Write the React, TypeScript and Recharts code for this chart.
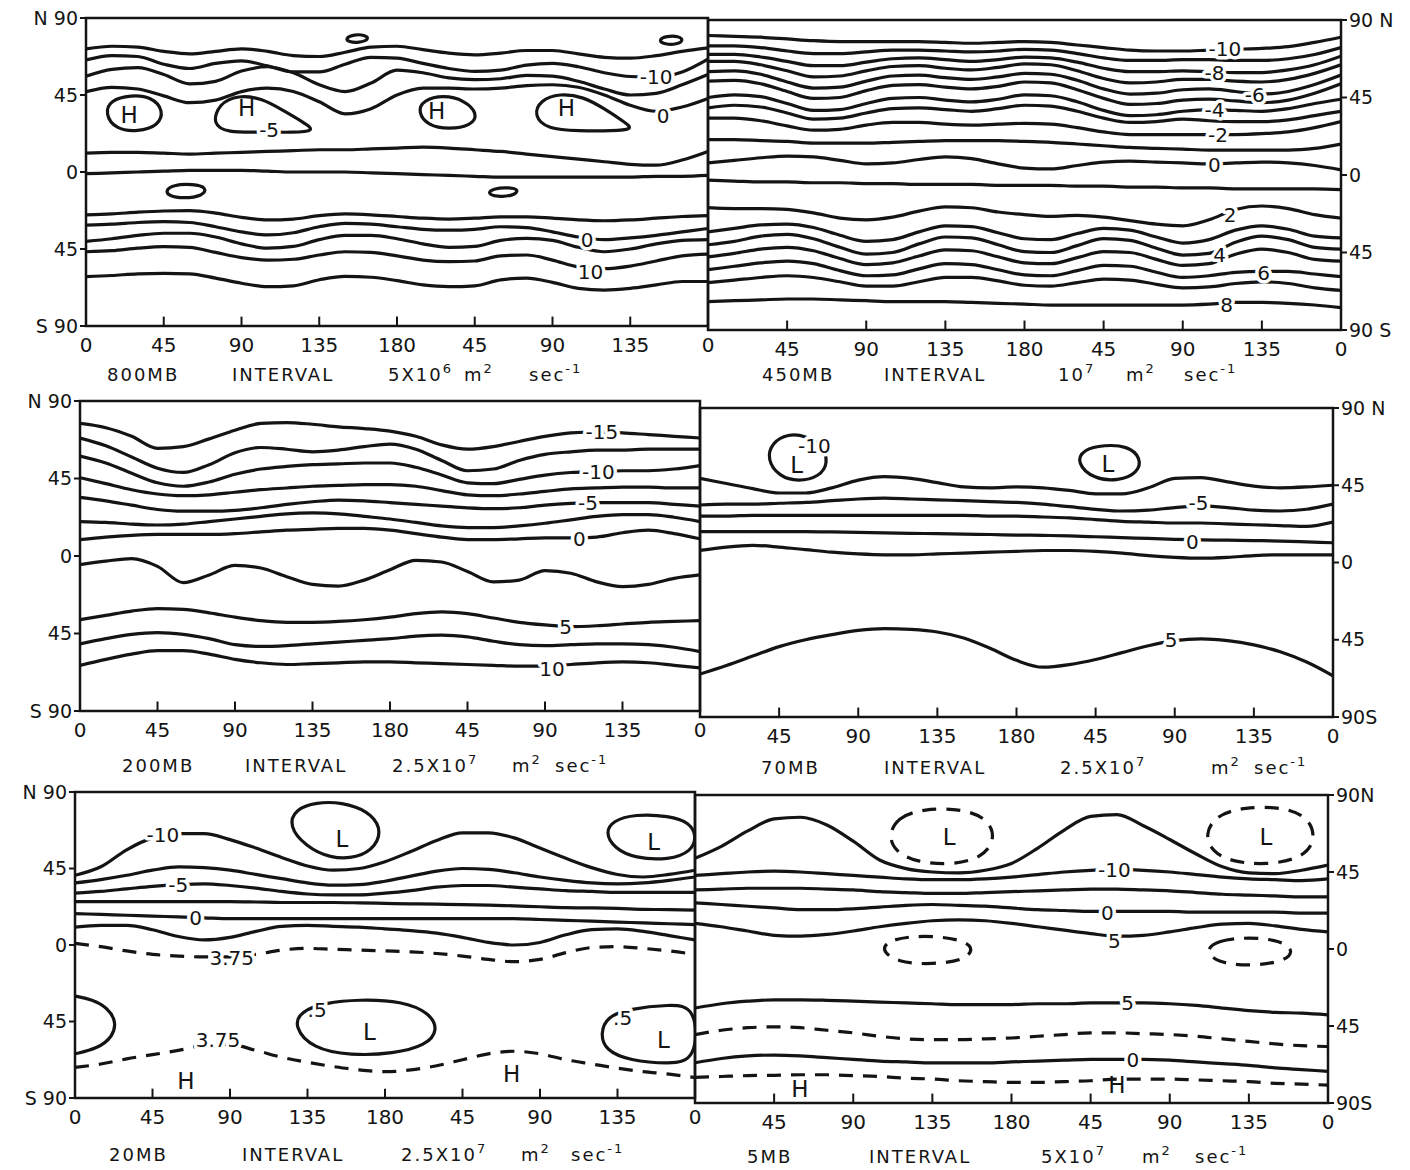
import React from "react";
import {
  ComposedChart,
  Line,
  Scatter,
  XAxis,
  YAxis,
  ReferenceArea,
  ReferenceLine,
} from "recharts";

const FONT = '"DejaVu Sans", "Liberation Sans", sans-serif';
const INK = "#141414";

// longitude grid used by every open contour (0..360 every 15 degrees)
const lon = [0, 15, 30, 45, 60, 75, 90, 105, 120, 135, 150, 165, 180, 195, 210, 225, 240, 255, 270, 285, 300, 315, 330, 345, 360];

const xTicks = [0, 45, 90, 135, 180, 225, 270, 315, 360];
const xLabels = ["0", "45", "90", "135", "180", "45", "90", "135", "0"];
const yTicks = [90, 45, 0, -45, -90];
const yLabelsLeft = ["N 90", "45", "0", "45", "S 90"];
const yLabelsRight = ["90 N", "45", "0", "45", "90 S"];
const yLabelsRight70 = ["90 N", "45", "0", "45", "90S"];
const yLabelsRight5 = ["90N", "45", "0", "45", "90S"];

type Pt = [number, number];
type Lab = [number, number, string];

// ---- 800 MB ----
const mb800n1 = [72, 73.5, 73, 70.5, 69, 70.5, 72, 70.5, 68, 67.5, 70, 73, 73.5, 71.5, 69.5, 68.5, 69.5, 71, 71, 69, 67, 66.5, 68, 70.5, 72.5];
const mb800n2 = [65.5, 68, 67.5, 63, 60.5, 63.5, 65, 62, 58.5, 58.5, 63, 67, 66.5, 63.5, 60.5, 58.8, 59.5, 62.5, 63.5, 61.5, 58, 55.8, 55.5, 58.5, 66];
const mb800n3 = [56, 60, 61, 57, 51.5, 53, 59, 61.5, 58, 51, 47, 52, 59.5, 58, 55, 54, 54.5, 56.5, 56, 53, 48.5, 45, 46, 51, 57];
const mb800n4 = [47, 49.5, 48.5, 44.5, 40.5, 42, 47, 49, 47, 41, 34, 37, 45, 49, 49, 48.5, 49, 50.5, 51, 49.5, 45, 39, 35.5, 38, 43];
const mb800e1 = [11, 11.5, 11.5, 11, 10.5, 11, 11.5, 12, 12.5, 13, 13, 13.5, 14, 14.5, 14, 13, 12, 10.5, 9, 7.5, 6, 4.5, 4, 7, 12];
const mb800e2 = [-1, -0.5, 0, 0.5, 1, 1, 1, 0.5, 0, 0, 0, -0.5, -1, -1.5, -2, -2.5, -3, -3, -3, -3, -3, -3, -2.5, -2.5, -2];
const mb800s1 = [-25, -24.5, -23.5, -22.8, -22.6, -24, -26.5, -28, -27.5, -25.5, -24.5, -25, -26, -27, -27.5, -27, -26.2, -26.2, -27, -28, -28.5, -28, -27, -26, -25.5];
const mb800s2 = [-31, -30.5, -29.5, -29, -29.5, -32, -35, -36.8, -35.5, -32, -30, -30.5, -32, -33.5, -34, -33.5, -32, -32.5, -35, -38, -39.5, -38.5, -37, -35, -33];
const mb800s3 = [-40.5, -39, -37, -35.8, -35.8, -38, -42, -44.5, -43.5, -39.5, -37, -37, -39, -42, -44, -43.5, -40, -38.8, -40, -44, -46.6, -45, -42, -40, -39.5];
const mb800s4 = [-46.6, -46, -44.5, -43.6, -44, -47, -50, -51.5, -51, -48.5, -46.6, -47, -49, -51.5, -52.4, -52, -49, -48.5, -51.5, -55.5, -56.5, -55, -52, -49, -48];
const mb800s5 = [-61.2, -60.5, -59.5, -59.2, -59.5, -62, -65, -67, -66.5, -63, -61, -61.5, -63.5, -66, -67, -66.5, -63, -62, -64.5, -68, -69, -68, -66, -64, -64];
const mb800h1: Pt[] = [[11, 34], [14, 42], [26, 45], [38, 44], [45, 36], [42, 27], [30, 23.5], [17, 25]];
const mb800h2: Pt[] = [[73, 28], [77, 40], [88, 45], [102, 43], [114, 36], [126, 29], [133, 24], [120, 23], [100, 23.5], [82, 23]];
const mb800h3: Pt[] = [[192, 35], [195, 42], [207, 45], [219, 42], [227, 34], [223, 27], [210, 25], [198, 27]];
const mb800h4: Pt[] = [[259, 33], [263, 42], [274, 46], [288, 44], [300, 37], [312, 29], [317, 25], [305, 24], [285, 24], [267, 25]];
const mb800c1: Pt[] = [[150, 78], [155, 80.5], [162, 80], [164, 77.5], [158, 75.5], [152, 76]];
const mb800c2: Pt[] = [[331, 77], [336, 79.5], [343, 79.5], [346, 77], [342, 74.5], [335, 74.5]];
const mb800c3: Pt[] = [[46, -11], [50, -7.5], [62, -7], [70, -9], [68, -14], [56, -15.5], [48, -14]];
const mb800c4: Pt[] = [[232, -12.5], [236, -9.5], [245, -9], [251, -10.5], [247, -14], [238, -14.5]];
const mb800labels: Lab[] = [
  [25, 33.5, "H"], [93, 37.5, "H"], [203, 35.5, "H"], [278, 37.5, "H"],
  [106, 24.5, "-5"], [330, 55.5, "-10"], [334, 32.5, "0"], [290, -39.7, "0"], [292, -58.2, "10"],
];

// ---- 450 MB ----
const mb450n10 = [81, 80.5, 80, 79, 78, 77.5, 77.5, 77.5, 77.5, 77, 76.5, 77, 77.5, 77, 75.5, 74, 72.5, 72, 72, 72.5, 73, 73.5, 74.5, 77, 80];
const mb450n9 = [75, 75, 74, 72, 70.5, 70.5, 71.5, 72.5, 72.5, 72, 71.5, 72, 73, 72.5, 70.5, 68, 66.5, 66.5, 67, 67, 66.5, 66.5, 67.5, 70, 74];
const mb450n8 = [70, 70, 68.5, 66, 63.5, 63.5, 65.5, 67.5, 68, 67, 66, 67, 68.5, 68, 65.5, 62, 60, 60, 60.5, 60, 59.5, 59.5, 61, 64, 69];
const mb450n7 = [66, 66, 64, 60.5, 57, 57.5, 60.5, 63, 63.5, 62, 61, 62.5, 64.5, 64, 60.5, 56, 53.5, 54, 55.5, 55.5, 54.5, 54, 55.5, 59, 64];
const mb450n6 = [60, 60.5, 58.5, 54, 50.5, 51, 54.5, 57.5, 58, 56.5, 55.5, 57, 59, 58.5, 55, 50, 47, 47.5, 49.5, 50, 48.5, 47, 48.5, 52.5, 58];
const mb450n5 = [54.5, 55, 53, 48.5, 44.5, 45, 49, 52, 52.5, 51, 50, 51.5, 54, 53.5, 49.5, 44.5, 41, 41.5, 43.5, 44, 43, 42, 43.5, 47.5, 53];
const mb450n4 = [45, 46.5, 45.5, 41.5, 37.5, 38, 41.5, 44.5, 45, 43.5, 42.5, 44, 46.5, 46, 42.5, 37.5, 34.5, 35, 37, 38, 37.5, 37, 38.5, 41.5, 44];
const mb450n3 = [39, 40.5, 39.5, 36, 32.5, 33, 36, 38.5, 39, 38, 37, 38.5, 40.5, 40, 37, 33, 30.5, 31, 32.5, 31.5, 31, 31, 32, 34.5, 37];
const mb450n2 = [33, 33, 31.5, 28.5, 26, 26.5, 29, 30.5, 30.5, 29.5, 29, 29.5, 30, 29.5, 27.5, 25, 23.5, 23.5, 23.5, 23.5, 23.5, 24, 25, 27.5, 31];
const mb450n1 = [20.5, 20.5, 20, 19.5, 18.5, 18.5, 18.5, 19, 19.5, 20, 20, 20, 19.5, 19, 18, 17, 16, 15.5, 15, 14.5, 14.5, 14.5, 14.5, 15.5, 18];
const mb450z = [7, 8.5, 10, 11, 10.5, 8.5, 6.5, 7, 9, 10.5, 9.5, 6.5, 4, 3.5, 5.5, 7.5, 8, 7.5, 7, 6.5, 7, 7.5, 7, 5.5, 3];
const mb450s1 = [-3, -3.5, -4, -4, -4.5, -4.5, -5, -5, -5.5, -5.5, -5.5, -6, -6, -6, -6.5, -6.5, -7, -7, -7.5, -7.5, -8, -8, -8, -8, -8.5];
const mb450s2 = [-19, -19.5, -19.5, -20, -22, -25, -26, -24.5, -21, -18.5, -19, -21.5, -23, -24, -23.5, -24.5, -26.5, -28.5, -29.5, -26, -20, -18, -19.5, -23, -25];
const mb450s3 = [-33, -31, -29, -28.5, -30.5, -35, -38.5, -37.5, -33, -29.5, -30, -33.5, -37, -37.5, -34, -31, -32, -36, -39.5, -37.5, -32, -29.5, -31.5, -35.5, -36.5];
const mb450s4 = [-40.5, -38.5, -35.5, -34.5, -37, -42, -46, -45, -40, -36, -36.5, -40.5, -44.5, -45, -41, -37, -38, -42.5, -46.5, -45.5, -39, -35.5, -37.5, -42, -43];
const mb450s5 = [-47.5, -45.5, -43, -42, -44, -48.5, -52, -51, -47, -43.5, -44, -47.5, -51, -51.5, -48, -44.5, -45, -49, -52.5, -51.5, -46, -43, -45, -49, -50];
const mb450s6 = [-55, -53, -51, -50, -51.5, -55.5, -58.5, -58, -54.5, -51.5, -52, -55, -58, -58.5, -55.5, -52.5, -53, -56.5, -59.5, -58.5, -56.5, -56, -56, -57.5, -59];
const mb450s7 = [-62.5, -61, -59.5, -58.5, -59.5, -62, -64.5, -64.5, -62, -59.5, -59.5, -61.5, -64, -64.5, -62.5, -60.5, -61, -63.5, -65.5, -65, -63, -62, -63, -65.5, -67];
const mb450s8 = [-73.5, -73, -72.5, -72, -72, -72.5, -73, -73.5, -73.5, -73.5, -74, -74.5, -75, -75.5, -75.5, -75.5, -75.5, -75.5, -75.5, -75, -74, -74, -74.5, -75.5, -77];
const mb450labels: Lab[] = [
  [294, 73.2, "-10"], [288, 59.3, "-8"], [311, 46.7, "-6"], [288, 37.9, "-4"], [290, 23.4, "-2"], [288, 6, "0"],
  [297, -23, "2"], [291, -46.4, "4"], [316, -57, "6"], [295, -75.5, "8"],
];

// ---- 200 MB ----
const mb200a1 = [77, 74.5, 69.5, 62.5, 63.5, 68, 73, 77, 77.5, 76.5, 75, 74, 72.5, 69.5, 64.5, 62, 63.5, 66.5, 69.5, 71.5, 72, 71.5, 70.5, 69.5, 68.5];
const mb200a2 = [68.5, 64, 57.5, 51, 48.5, 53, 60, 63, 62, 60.5, 61.5, 63.5, 65, 62, 55.5, 49.5, 50.5, 55.5, 59, 60.5, 61.5, 61.5, 62, 62, 62];
const mb200a3 = [58, 54, 48, 42.5, 40.5, 43, 47.5, 50.5, 52, 53, 53.5, 54, 54, 51.5, 47, 42.5, 42, 44.5, 47, 48.5, 49, 49.5, 49.5, 50.5, 52.5];
const mb200a4 = [45.5, 42, 38.5, 36, 35, 35.5, 37, 38.5, 39.5, 40.5, 41, 41.5, 41.5, 40.5, 38, 35.5, 35, 36, 37.5, 39, 39.5, 40, 40, 39.5, 39.5];
const mb200a5 = [34, 32, 29.5, 27, 26, 26, 26.5, 28, 30, 31.5, 32.5, 32, 31, 30, 29, 28, 27.5, 28, 29.5, 30.5, 31, 31, 31, 30, 29];
const mb200a6 = [20, 19.5, 18.5, 18, 18.5, 20, 21.5, 23, 24.5, 25, 24.5, 23, 21.5, 19.5, 17.5, 16.5, 16.5, 17.5, 19, 21, 23, 24, 24, 22.5, 20];
const mb200a7 = [9.5, 11, 12, 12.5, 12.5, 12.5, 13, 14, 15, 15.5, 16, 16, 15, 13, 11, 9.5, 9.5, 10, 10.5, 10.5, 11, 13.5, 15, 13, 10];
const mb200a8 = [-5, -3, -1.5, -6, -15.5, -11, -5.5, -7, -12, -16.5, -17.5, -14, -8, -2.5, -3.5, -9, -15, -14, -8.5, -10, -15, -17.8, -16.5, -13, -11];
const mb200a9 = [-37, -34.5, -32, -30.5, -31, -33, -35.5, -37.5, -38.5, -38.5, -38, -37, -35.5, -33.5, -32.5, -33.5, -36, -38.5, -40, -41, -40.5, -39.5, -38.5, -38, -37.5];
const mb200a10 = [-51, -48, -45.5, -44.5, -45.5, -48, -51.5, -52.5, -52, -51, -50, -49, -48, -46.5, -46, -47, -49.5, -51.5, -52, -51.5, -51, -51, -51.5, -53, -55.5];
const mb200a11 = [-63.5, -60, -57, -55, -55, -57, -60, -62, -63, -62.5, -62, -61.5, -61.5, -62, -62.5, -63, -63.5, -64, -64, -63, -62, -61.5, -62, -63.5, -65];
const mb200labels: Lab[] = [
  [303, 71.9, "-15"], [301, 49, "-10"], [295, 31, "-5"], [290, 9.9, "0"], [282, -41.2, "5"], [274, -65.6, "10"],
];

// ---- 70 MB ----
const mb70b1 = [49, 46, 43, 40.5, 40.5, 43.5, 48, 50, 49, 46.5, 44, 43.5, 44, 43.5, 42, 40, 40, 43.5, 49, 49.5, 47, 44.5, 43.5, 44, 45];
const mb70b2 = [33.5, 34, 34, 34.5, 35, 36, 37, 37.5, 37, 36.5, 36, 35.5, 35, 34, 32.5, 31, 30, 30.5, 32, 33, 32, 30.5, 30, 31, 34];
const mb70b3 = [27, 27, 27.5, 27.5, 27.5, 27.5, 27.5, 27.5, 27.5, 27.5, 27.5, 27, 27, 26.5, 26, 25, 24, 23.5, 23, 23, 22.5, 22, 21.5, 21, 23.5];
const mb70b4 = [18, 18, 18, 18, 18, 17.8, 17.5, 17.3, 17, 16.8, 16.5, 16.3, 16, 15.8, 15.5, 15, 14.5, 14, 13.5, 13.2, 13, 12.8, 12.5, 12, 11.5];
const mb70b5 = [7, 9, 10, 9, 7.5, 6, 5, 4.5, 4.5, 5, 5.5, 6, 6.5, 7, 7, 6.5, 5.5, 4, 3, 2.5, 3, 4, 4.5, 4.5, 4.5];
const mb70b6 = [-65, -60, -54.5, -49, -45, -42, -39.5, -38.5, -39, -40.5, -44, -50, -57, -61, -59.5, -56.5, -52.5, -48.5, -45.5, -44.5, -45.5, -48, -52, -58, -66];
const mb70l1: Pt[] = [[38, 60], [41, 70], [50, 75], [60, 74], [70, 68], [73, 58], [68, 50], [56, 47], [45, 50]];
const mb70l2: Pt[] = [[214, 58], [218, 66], [230, 68.5], [243, 68], [251, 61], [249, 52], [238, 47.5], [224, 48.5]];
const mb70labels: Lab[] = [
  [55, 57, "L"], [65, 68, "-10"], [232, 57.5, "L"], [283.5, 34.5, "-5"], [280, 12.2, "0"], [268, -45.2, "5"],
];

// ---- 20 MB ----
const mb20c1 = [41, 46, 56, 63, 65.5, 65.5, 62, 57, 51.5, 46.5, 44, 45, 49, 55, 61.5, 66, 66, 63, 57, 51, 45.5, 41.5, 40, 41.5, 44];
const mb20c2 = [36.5, 38.5, 41, 44, 46, 45.5, 44, 41.5, 39, 36.5, 35.2, 35.5, 37.5, 40.5, 43.5, 45, 44.5, 42.5, 40, 38, 36.5, 36, 36.5, 38, 40];
const mb20c3 = [30.5, 31.5, 33, 34.5, 35.5, 36, 35, 33.5, 31.5, 30, 29.5, 29.5, 30.5, 32, 34, 35, 35, 34, 33, 32, 31.5, 31, 31, 31, 31];
const mb20c4 = [25.5, 25.5, 25.5, 25.5, 25.5, 25.5, 25.5, 25.3, 25, 25, 25, 24.8, 24.5, 24.2, 24, 23.8, 23.5, 23, 22.5, 22, 21.8, 21.5, 21, 20.8, 20.5];
const mb20c5 = [18.5, 18, 17.5, 17, 16.5, 16, 15.5, 15.5, 15.5, 15.5, 15.5, 15.5, 15.5, 15.5, 15.5, 15.5, 15.5, 15.5, 15, 14.5, 14, 13.5, 13, 12.5, 12];
const mb20c6 = [10.5, 11.5, 11.5, 9, 5, 3, 4.5, 8, 11, 11.5, 11, 10.5, 9.5, 8.5, 7, 4.5, 1.5, 0, 1.5, 6, 9, 9.5, 8, 5.5, 3];
const mb20d1 = [1, -1, -3.5, -5.5, -6.5, -7, -7, -5.5, -3, -2, -2.5, -3, -3.5, -4, -5, -6.5, -8.5, -9.8, -8.5, -4.5, -1.5, -1, -2, -3.5, -5.5];
const mb20d2 = [-72, -70, -67, -64.5, -62, -59, -58.5, -62, -66, -69, -71.5, -73.5, -74.5, -73.5, -71, -67.5, -64, -62.5, -64, -67.5, -70, -72.5, -74.5, -76, -78];
const mb20l1: Pt[] = [[124, 70], [128, 80], [140, 84], [155, 84], [170, 79], [178, 69], [175, 58], [164, 51], [148, 51], [134, 58]];
const mb20l2: Pt[] = [[308, 66], [312, 73], [325, 77], [345, 76], [357, 72], [361, 64], [358, 55], [345, 50], [325, 51], [313, 57]];
const mb20l3: Pt[] = [[127, -48], [131, -39], [145, -34], [165, -32], [190, -33], [206, -40], [211, -50], [204, -59], [185, -64], [160, -65], [138, -61]];
const mb20l4: Pt[] = [[305, -52], [309, -42], [322, -37.5], [345, -35], [361, -36], [361, -68], [345, -70], [322, -68], [308, -62]];
const mb20edge: Pt[] = [[0, -30], [10, -32], [19, -37], [24, -45], [22, -54], [13, -61], [0, -64]];
const mb20labels: Lab[] = [
  [51, 64.6, "-10"], [60, 35.2, "-5"], [70, 15.6, "0"], [91, -7.9, "3.75"], [83, -55.8, "3.75"],
  [155, 62.6, "L"], [336, 60.6, "L"], [171, -51, "L"], [341.6, -55.8, "L"],
  [140.6, -38, ".5"], [318, -43, ".5"], [64.4, -80, "H"], [253.6, -76, "H"],
];

// ---- 5 MB ----
const mb5d1 = [53, 60, 69, 76, 77, 72.5, 63, 52, 47, 45, 44.5, 46, 50, 59, 69.5, 77.5, 78.5, 72, 64, 55.5, 48, 44.5, 44, 46, 49];
const mb5d2 = [43, 44, 45, 45.5, 45, 44, 43, 42, 41, 40.5, 40.5, 41, 42, 43.5, 45, 46, 46.5, 46, 45, 43.5, 42, 41, 40.5, 40, 41];
const mb5d3 = [34.5, 35, 35.5, 35.5, 35.5, 35, 34.5, 33.5, 33, 32.5, 32.5, 33, 33.5, 34, 34.5, 35, 35, 34.5, 34, 33, 32, 31.5, 31, 30.5, 30.5];
const mb5d4 = [27, 26, 25, 24, 23, 23, 23.5, 24.5, 25.5, 26, 25.5, 25, 24, 23, 22.5, 22, 22, 22, 22, 21.5, 21.5, 21.5, 21.5, 21, 21];
const mb5d5 = [15, 13, 10.5, 8, 7.5, 8.5, 10.5, 13, 15, 16.5, 17, 16.5, 15, 13, 11, 9, 7.5, 8, 10, 12.5, 14.5, 15, 13.5, 11.5, 10];
const mb5d6 = [-34.5, -32, -30.5, -29.7, -29.7, -30, -30.5, -31, -31.5, -32, -32.5, -32.5, -32.5, -32, -32, -31.5, -31.5, -31.5, -32, -33, -34.5, -36, -37, -37.5, -38.5];
const mb5d7 = [-50, -47.5, -46, -45.5, -46, -47.5, -49, -51, -52.5, -53, -53, -52.5, -52, -51, -50, -49, -49, -49.5, -50, -51, -52.5, -54, -55.5, -56.5, -57];
const mb5d8 = [-66.5, -64, -62.5, -62, -62.5, -63.5, -64.5, -65.5, -66, -66.5, -66.5, -66.5, -66, -65.5, -65, -64.5, -64.5, -64.5, -65, -66, -67, -68, -69.5, -70.5, -71.5];
const mb5d9 = [-75, -74.5, -74, -73.8, -73.5, -73.5, -74, -74.5, -75.5, -76, -77, -77.5, -78, -78, -77.5, -77, -76, -76, -76, -76.5, -77, -77.5, -78.5, -79, -79.5];
const mb5e1: Pt[] = [[110, 66], [115, 77], [130, 82], [152, 82], [167, 76], [171, 64], [163, 53], [145, 49], [125, 51], [114, 57]];
const mb5e2: Pt[] = [[290, 67], [296, 78], [312, 83], [336, 83], [350, 76], [353, 63], [345, 53], [325, 49], [305, 51], [294, 57]];
const mb5e3: Pt[] = [[105, 0], [112, 6], [130, 8], [150, 6], [159, 1], [154, -6.5], [135, -9], [115, -8]];
const mb5e4: Pt[] = [[290, -1], [297, 5], [315, 7], [333, 5], [341, -1], [335, -7.5], [315, -10], [297, -8]];
const mb5labels: Lab[] = [
  [238.5, 46.2, "-10"], [234.5, 21, "0"], [238.5, 4.4, "5"], [246, -31.6, "5"], [249, -64.7, "0"],
  [144.5, 65.7, "L"], [324.7, 65.7, "L"], [59.6, -82, "H"], [240, -79.3, "H"],
];

type Curve = { v: number[]; dash?: boolean };
type Ring = { pts: Pt[]; dash?: boolean; open?: boolean };

const DASH = "14 10";

function ContourLabel(props: any) {
  const { cx, cy, payload } = props;
  if (cx == null || cy == null || !payload) return null;
  const big = payload.t === "H" || payload.t === "L";
  return (
    <text
      x={cx}
      y={cy}
      textAnchor="middle"
      dominantBaseline="central"
      fontSize={big ? 23 : 20}
      fontFamily={FONT}
      fill={INK}
      stroke="#fff"
      strokeWidth={big ? 0 : 7}
      strokeLinejoin="round"
      paintOrder="stroke"
    >
      {payload.t}
    </text>
  );
}

function Panel(props: {
  plotLeft: number;
  plotTop: number;
  plotW: number;
  plotH: number;
  side: "left" | "right";
  yLabels: string[];
  lines: Curve[];
  rings: Ring[];
  labels: Lab[];
}) {
  const { plotLeft, plotTop, plotW, plotH, side, yLabels, lines, rings, labels } = props;
  const axisW = 70;
  const pad = side === "left" ? 16 : 2;
  const width = plotW + axisW + pad;
  const height = plotH + 10 + 40;
  const left = side === "left" ? plotLeft - axisW : plotLeft - pad;
  const tick = { fontSize: 20, fill: INK, fontFamily: FONT };
  // the shared 0 at the seam between two panels is printed once, by the left panel
  const xl = side === "left" ? xLabels : ["", ...xLabels.slice(1)];
  return (
    <div style={{ position: "absolute", left, top: plotTop - 10 }}>
      <ComposedChart
        width={width}
        height={height}
        margin={{ top: 10, bottom: 0, left: side === "left" ? 0 : pad, right: side === "left" ? pad : 0 }}
      >
        <XAxis
          type="number"
          dataKey="x"
          domain={[0, 360]}
          allowDataOverflow
          ticks={xTicks}
          interval={0}
          tickFormatter={(v: number) => xl[xTicks.indexOf(v)] ?? ""}
          axisLine={false}
          tickLine={false}
          tickSize={4}
          tickMargin={8}
          height={40}
          tick={tick}
        />
        <YAxis
          type="number"
          dataKey="y"
          domain={[-90, 90]}
          allowDataOverflow
          ticks={yTicks}
          interval={0}
          orientation={side}
          width={axisW}
          tickFormatter={(v: number) => yLabels[yTicks.indexOf(v)] ?? ""}
          axisLine={false}
          tickLine={{ stroke: INK, strokeWidth: 2 }}
          tick={{ ...tick, fontSize: 19 }}
        />
        <ReferenceArea x1={0} x2={360} y1={-90} y2={90} fill="none" stroke={INK} strokeWidth={2.5} ifOverflow="visible" />
        {xTicks.slice(1, -1).map((t) => (
          <ReferenceLine
            key={"t" + t}
            segment={[{ x: t, y: -90 }, { x: t, y: -84.5 }]}
            stroke={INK}
            strokeWidth={2}
          />
        ))}
        {lines.map((c, i) => (
          <Line
            key={"l" + i}
            data={lon.map((x, k) => ({ x, y: c.v[k] }))}
            dataKey="y"
            type="monotone"
            stroke={INK}
            strokeWidth={3.2}
            strokeDasharray={c.dash ? DASH : undefined}
            dot={false}
            activeDot={false}
            isAnimationActive={false}
          />
        ))}
        {rings.map((r, i) => (
          <Line
            key={"r" + i}
            data={r.pts.map(([x, y]) => ({ x, y }))}
            dataKey="y"
            type={r.open ? "basis" : "basisClosed"}
            stroke={INK}
            strokeWidth={3.2}
            strokeDasharray={r.dash ? DASH : undefined}
            dot={false}
            activeDot={false}
            isAnimationActive={false}
          />
        ))}
        <Scatter
          data={labels.map(([x, y, t]) => ({ x, y, t }))}
          dataKey="y"
          shape={(p: any) => <ContourLabel {...p} />}
          isAnimationActive={false}
        />
      </ComposedChart>
    </div>
  );
}

// caption words placed at the x positions
function Caption({ y, words, at }: { y: number; words: [string, string, string]; at: number[] }) {
  const sup = { fontSize: 13, position: "relative" as const, top: -8 };
  const base = {
    position: "absolute" as const,
    top: y - 11,
    fontFamily: FONT,
    fontSize: 18,
    letterSpacing: 2,
    color: INK,
    whiteSpace: "nowrap" as const,
    lineHeight: "22px",
  };
  return (
    <>
      <span style={{ ...base, left: at[0] }}>{words[0]}</span>
      <span style={{ ...base, left: at[1] }}>INTERVAL</span>
      <span style={{ ...base, left: at[2] }}>
        {words[1]}
        <span style={sup}>{words[2]}</span>
      </span>
      <span style={{ ...base, left: at[3] }}>
        m<span style={sup}>2</span>
      </span>
      <span style={{ ...base, left: at[4] }}>
        sec<span style={sup}>-1</span>
      </span>
    </>
  );
}

export default function App() {
  return (
    <div style={{ position: "relative", width: 1410, height: 1170, background: "#fff", overflow: "hidden" }}>
      <style>{"body{margin:0;}"}</style>
      <Panel
        plotLeft={86}
        plotTop={18}
        plotW={622}
        plotH={308}
        side="left"
        yLabels={yLabelsLeft}
        lines={[mb800n1, mb800n2, mb800n3, mb800n4, mb800e1, mb800e2, mb800s1, mb800s2, mb800s3, mb800s4, mb800s5].map((v) => ({ v }))}
        rings={[mb800h1, mb800h2, mb800h3, mb800h4, mb800c1, mb800c2, mb800c3, mb800c4].map((pts) => ({ pts }))}
        labels={mb800labels}
      />
      <Panel
        plotLeft={708}
        plotTop={20}
        plotW={633}
        plotH={310}
        side="right"
        yLabels={yLabelsRight}
        lines={[mb450n10, mb450n9, mb450n8, mb450n7, mb450n6, mb450n5, mb450n4, mb450n3, mb450n2, mb450n1, mb450z, mb450s1, mb450s2, mb450s3, mb450s4, mb450s5, mb450s6, mb450s7, mb450s8].map((v) => ({ v }))}
        rings={[]}
        labels={mb450labels}
      />
      <Panel
        plotLeft={80}
        plotTop={401}
        plotW={620}
        plotH={310}
        side="left"
        yLabels={yLabelsLeft}
        lines={[mb200a1, mb200a2, mb200a3, mb200a4, mb200a5, mb200a6, mb200a7, mb200a8, mb200a9, mb200a10, mb200a11].map((v) => ({ v }))}
        rings={[]}
        labels={mb200labels}
      />
      <Panel
        plotLeft={700}
        plotTop={408}
        plotW={633}
        plotH={309}
        side="right"
        yLabels={yLabelsRight70}
        lines={[mb70b1, mb70b2, mb70b3, mb70b4, mb70b5, mb70b6].map((v) => ({ v }))}
        rings={[{ pts: mb70l1 }, { pts: mb70l2 }]}
        labels={mb70labels}
      />
      <Panel
        plotLeft={75}
        plotTop={792}
        plotW={620}
        plotH={306}
        side="left"
        yLabels={yLabelsLeft}
        lines={[
          { v: mb20c1 }, { v: mb20c2 }, { v: mb20c3 }, { v: mb20c4 }, { v: mb20c5 }, { v: mb20c6 },
          { v: mb20d1, dash: true }, { v: mb20d2, dash: true },
        ]}
        rings={[{ pts: mb20l1 }, { pts: mb20l2 }, { pts: mb20l3 }, { pts: mb20l4 }, { pts: mb20edge, open: true }]}
        labels={mb20labels}
      />
      <Panel
        plotLeft={695}
        plotTop={795}
        plotW={633}
        plotH={308}
        side="right"
        yLabels={yLabelsRight5}
        lines={[
          { v: mb5d1 }, { v: mb5d2 }, { v: mb5d3 }, { v: mb5d4 }, { v: mb5d5 }, { v: mb5d6 },
          { v: mb5d7, dash: true }, { v: mb5d8 }, { v: mb5d9, dash: true },
        ]}
        rings={[{ pts: mb5e1, dash: true }, { pts: mb5e2, dash: true }, { pts: mb5e3, dash: true }, { pts: mb5e4, dash: true }]}
        labels={mb5labels}
      />
      <Caption y={375} words={["800MB", "5X10", "6"]} at={[107, 232, 388, 464, 529]} />
      <Caption y={375} words={["450MB", "10", "7"]} at={[762, 884, 1058, 1126, 1184]} />
      <Caption y={766} words={["200MB", "2.5X10", "7"]} at={[122, 245, 392, 512, 555]} />
      <Caption y={768} words={["70MB", "2.5X10", "7"]} at={[761, 884, 1060, 1211, 1254]} />
      <Caption y={1155} words={["20MB", "2.5X10", "7"]} at={[109, 242, 401, 521, 571]} />
      <Caption y={1157} words={["5MB", "5X10", "7"]} at={[747, 869, 1041, 1142, 1195]} />
    </div>
  );
}
